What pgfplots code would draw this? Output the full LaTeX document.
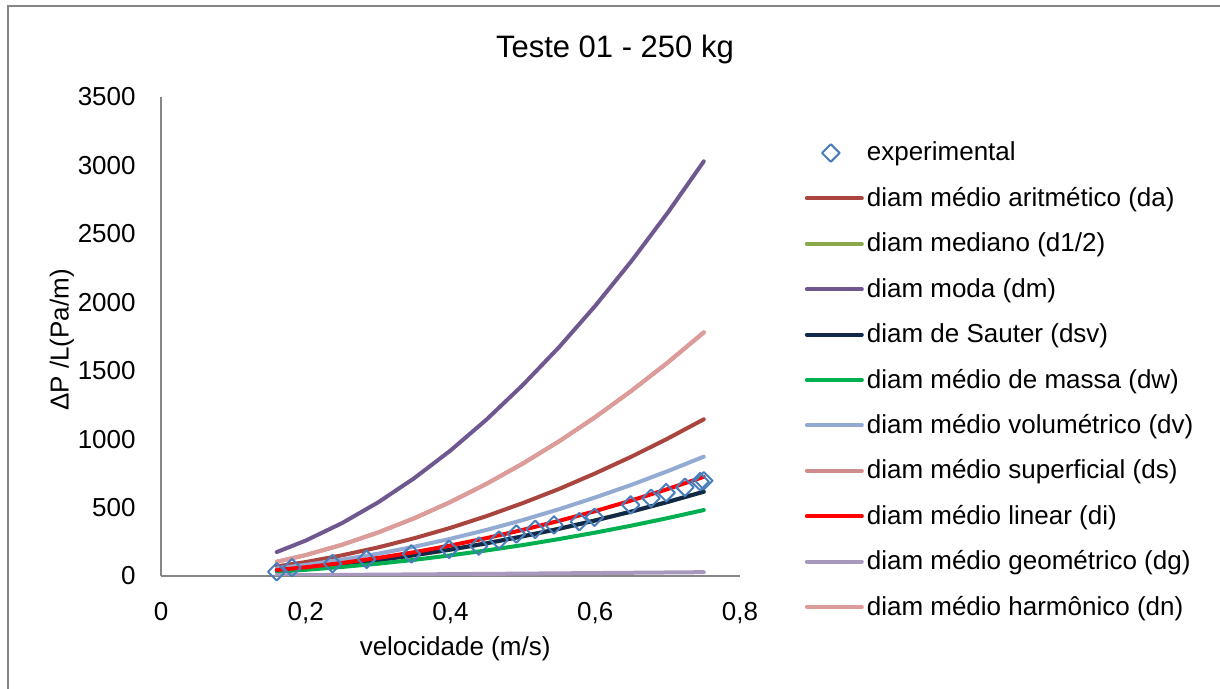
\documentclass[border=0pt]{standalone}
\usepackage{pgfplots}
\pgfplotsset{compat=1.18}
\usepackage{pgfplotstable}
\usepackage{fontspec}
\setmainfont{Liberation Sans}

\definecolor{cda}{HTML}{A9443F}
\definecolor{cmed}{HTML}{88A84A}
\definecolor{cdm}{HTML}{6F5890}
\definecolor{cdsv}{HTML}{13294A}
\definecolor{cdw}{HTML}{00B050}
\definecolor{cdv}{HTML}{93ABD3}
\definecolor{cds}{HTML}{D08C8A}
\definecolor{cdi}{HTML}{FF0000}
\definecolor{cdg}{HTML}{A898BE}
\definecolor{cdn}{HTML}{DC9C9A}
\definecolor{cexp}{HTML}{4A7EBB}
\definecolor{axgray}{HTML}{868686}

\pgfplotsset{
  explegend/.style={legend image code/.code={\draw[##1] plot coordinates {(12bp,0bp)};}},
  linelegend/.style={legend image code/.code={\draw[##1, line cap=round] (0bp,0bp) -- (27.5bp,0bp);}},
  expmark/.style={mark=square, mark size=3.1bp, draw=cexp, line width=1bp,
    mark options={rotate=45, fill=none, solid}},
}

% model curves
\pgfplotstableread{
x     da    dm    dsv   dw    dv    dn    di    dg
0.16  70    175   40    31    56    104   44    5
0.20  102   259   58    45    81    153   64    6.3
0.25  151   386   84    66    119   228   95    8
0.30  209   538   116   90    163   318   132   9.8
0.35  276   715   152   118   214   422   174   11.6
0.40  352   917   193   151   272   541   223   13.5
0.45  438   1144  239   187   337   674   277   15.4
0.50  533   1396  290   226   409   822   337   17.4
0.55  636   1672  345   270   488   984   403   19.4
0.60  750   1974  406   317   574   1161  474   21.5
0.65  872   2301  471   368   666   1353  552   23.6
0.70  1004  2653  541   423   766   1559  635   25.8
0.75  1145  3030  616   482   872   1780  725   28
}\curves

% experimental points
\pgfplotstableread{
x      y
0.160  31
0.181  61
0.237  90
0.284  122
0.346  161
0.398  195
0.439  219
0.467  263
0.491  307
0.517  341
0.543  373
0.578  397
0.599  429
0.649  519
0.677  568
0.698  609
0.724  648
0.745  689
0.750  696
}\expdata

\begin{document}
\begin{tikzpicture}
  \path[use as bounding box] (0,0) rectangle (610bp,344.5bp);
  \draw[axgray, line width=1bp] (4bp,0bp) -- (4bp,341.5bp) -- (610bp,341.5bp);

  \begin{axis}[
    at={(80.5bp,56.5bp)}, anchor=south west,
    scale only axis,
    width=289.5bp, height=239.5bp,
    xmin=0, xmax=0.8, ymin=0, ymax=3500,
    xtick={0,0.2,0.4,0.6,0.8},
    ytick={0,500,1000,1500,2000,2500,3000,3500},
    axis x line=bottom, axis y line=left,
    axis line style={-, axgray, line width=1bp},
    major tick length=0pt,
    scaled ticks=false,
    /pgf/number format/.cd, fixed, use comma, 1000 sep={}, assume math mode=true,
    /pgfplots/.cd,
    tick label style={font=\fontsize{13bp}{15bp}\selectfont},
    xticklabel style={anchor=north, inner sep=0pt, yshift=-13bp},
    yticklabel style={anchor=east, inner sep=0pt, xshift=-12.5bp},
    title={Teste 01 - 250 kg},
    title style={at={(axis description cs:0.784,1.075)}, anchor=center,
      font=\fontsize{15.5bp}{18bp}\selectfont},
    xlabel={velocidade (m/s)},
    xlabel style={at={(axis description cs:0.508,-0.152)}, anchor=center,
      font=\fontsize{13bp}{15bp}\selectfont},
    ylabel={ΔP /L(Pa/m)},
    ylabel style={at={(axis description cs:-0.171,0.4927)}, anchor=center,
      font=\fontsize{13bp}{15bp}\selectfont},
    legend cell align=left,
    legend style={at={(1.112,0.9305)}, anchor=north west, draw=none, fill=none,
      inner sep=0pt, outer sep=0pt, row sep=0pt, column sep=1.5bp,
      font=\fontsize{13bp}{15bp}\selectfont,
      nodes={inner sep=0pt, minimum height=22.7bp}},
    every axis plot/.append style={line width=2bp, line cap=round, line join=round},
  ]
    \addlegendimage{only marks, expmark, explegend}
    \addlegendentry{experimental}

    \addplot[cda, no marks, linelegend] table[x=x, y=da] {\curves};
    \addlegendentry{diam médio aritmético (da)}
    \addplot[cmed, no marks, linelegend] table[x=x, y=dsv] {\curves};
    \addlegendentry{diam mediano (d1/2)}
    \addplot[cdm, no marks, linelegend] table[x=x, y=dm] {\curves};
    \addlegendentry{diam moda (dm)}
    \addplot[cdsv, no marks, linelegend] table[x=x, y=dsv] {\curves};
    \addlegendentry{diam de Sauter (dsv)}
    \addplot[cdw, no marks, linelegend] table[x=x, y=dw] {\curves};
    \addlegendentry{diam médio de massa (dw)}
    \addplot[cdv, no marks, linelegend] table[x=x, y=dv] {\curves};
    \addlegendentry{diam médio volumétrico (dv)}
    \addplot[cds, no marks, linelegend] table[x=x, y=dn] {\curves};
    \addlegendentry{diam médio superficial (ds)}
    \addplot[cdi, no marks, linelegend] table[x=x, y=di] {\curves};
    \addlegendentry{diam médio linear (di)}
    \addplot[cdg, no marks, linelegend] table[x=x, y=dg] {\curves};
    \addlegendentry{diam médio geométrico (dg)}
    \addplot[cdn, no marks, linelegend] table[x=x, y=dn] {\curves};
    \addlegendentry{diam médio harmônico (dn)}

    \addplot[forget plot, only marks, expmark] table[x=x, y=y] {\expdata};
  \end{axis}
\end{tikzpicture}
\end{document}
